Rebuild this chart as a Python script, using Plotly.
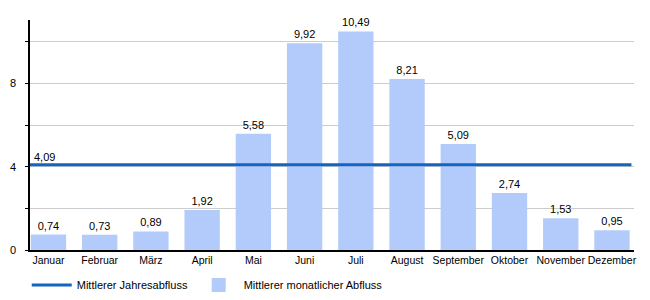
import plotly.graph_objects as go

months = ["Januar", "Februar", "März", "April", "Mai", "Juni", "Juli",
          "August", "September", "Oktober", "November", "Dezember"]
monthly = [0.74, 0.73, 0.89, 1.92, 5.58, 9.92, 10.49, 8.21, 5.09, 2.74, 1.53, 0.95]
annual = 4.09
ytick_vals = [0, 2, 4, 6, 8, 10]
ytick_text = ["0", "", "4", "", "8", ""]

BAR_COLOR = "#b3cbfa"
LINE_COLOR = "#1565c0"

xs = list(range(len(months)))
x_lo, x_hi = -0.36, 11.43

fig = go.Figure()
fig.add_trace(go.Bar(
    x=xs, y=monthly, name="Mittlerer monatlicher Abfluss",
    marker=dict(color=BAR_COLOR, line=dict(width=0)),
    width=0.69,
    text=[f"{v:.2f}".replace(".", ",") for v in monthly],
    textposition="outside", cliponaxis=False,
    textfont=dict(size=11, color="#000"),
    showlegend=False,
))
fig.add_trace(go.Scatter(
    x=[x_lo, 11.38], y=[annual, annual], mode="lines",
    name="Mittlerer Jahresabfluss",
    line=dict(color=LINE_COLOR, width=3),
    legend="legend",
))
# legend entry for bars
fig.add_trace(go.Scatter(
    x=[None], y=[None], mode="markers", name="Mittlerer monatlicher Abfluss",
    marker=dict(symbol="square", size=14, color=BAR_COLOR),
    legend="legend2",
))
fig.add_annotation(x=x_lo, y=annual, text=f"{annual:.2f}".replace(".", ","),
                   xanchor="left", yanchor="bottom", showarrow=False,
                   xshift=2, yshift=0, font=dict(size=11, color="#000"))

leg_common = dict(orientation="h", y=-0.152, xanchor="left", yanchor="middle",
                  font=dict(size=11), itemwidth=40, bgcolor="rgba(0,0,0,0)")
fig.update_layout(
    width=650, height=300,
    margin=dict(l=30, r=16, t=20, b=50, autoexpand=False),
    paper_bgcolor="white", plot_bgcolor="white",
    font=dict(family="Liberation Sans, Arial, sans-serif", size=11, color="#000"),
    showlegend=True,
    legend=dict(x=-0.0054, **leg_common),
    legend2=dict(x=0.271, **leg_common),
)
fig.update_xaxes(
    range=[x_lo, x_hi], tickvals=xs, ticktext=months, tickangle=0,
    showline=True, linecolor="#000", linewidth=1.5,
    showgrid=False, ticks="", zeroline=False,
    tickfont=dict(size=10.5), automargin=False,
)
fig.update_yaxes(
    range=[0, 11.04], tickvals=ytick_vals, ticktext=ytick_text,
    showline=True, linecolor="#000", linewidth=1.5,
    showgrid=True, gridcolor="#cccccc", gridwidth=1,
    ticks="outside", ticklen=3, tickcolor="#000", ticklabelstandoff=7,
    zeroline=False, tickfont=dict(size=11), automargin=False,
)

fig.write_html("out.html")
